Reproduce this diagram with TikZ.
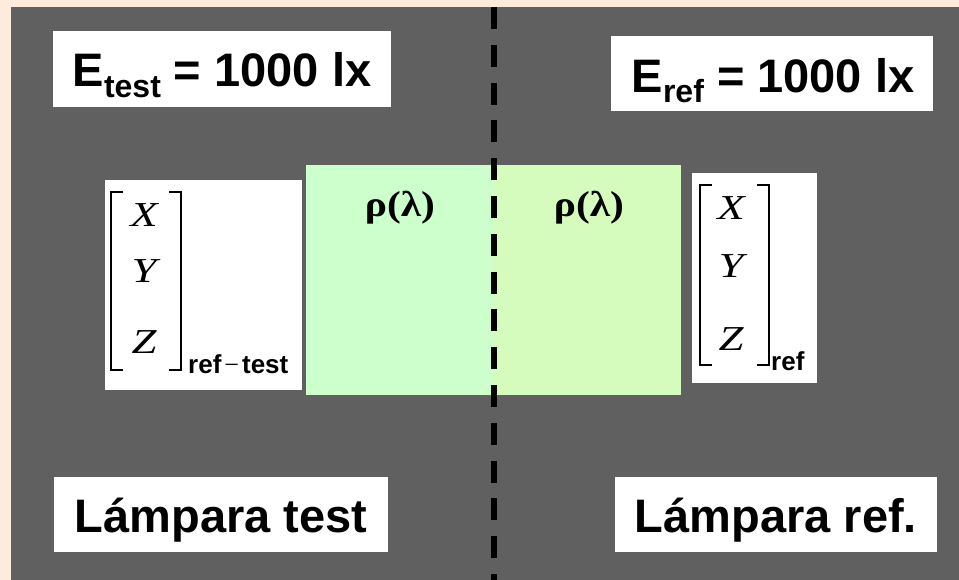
\documentclass[tikz,border=0pt]{standalone}
\usepackage{fontspec}
\newfontfamily\arialf{Liberation Sans}
\newfontfamily\timesf{Liberation Serif}
\newcommand\mysubfont{\arialf\bfseries\fontsize{32}{32}\selectfont}
\newcommand\widen[1]{\scalebox{1.28}[1]{#1}}
\definecolor{bgbeige}{RGB}{253,236,222}
\definecolor{panelgray}{RGB}{96,96,96}
\definecolor{greenA}{RGB}{204,255,204}
\definecolor{greenB}{RGB}{213,252,189}
\begin{document}
\begin{tikzpicture}[x=1pt,y=-1pt,
  whitebox/.style={fill=white,draw=none},
  bigtxt/.style={font=\arialf\bfseries\fontsize{47}{47}\selectfont,inner sep=0pt,anchor=base},
  rhotxt/.style={font=\timesf\bfseries\fontsize{36}{36}\selectfont,inner sep=0pt,anchor=base},
  mattxt/.style={font=\timesf\itshape\fontsize{35}{35}\selectfont,inner sep=0pt,anchor=base},
  idxtxt/.style={font=\arialf\bfseries\fontsize{26}{26}\selectfont,inner sep=0pt,anchor=base west},
  brk/.style={draw=black,line width=1.3pt},
  dashline/.style={draw=black,line width=5.5pt,dash pattern=on 22pt off 15.8pt}]
\useasboundingbox (0,0) rectangle (959,580);
\fill[bgbeige] (0,0) rectangle (959,580);
\fill[panelgray] (11,7) rectangle (959,580);
% white label boxes
\fill[whitebox] (53,31) rectangle (391,107);
\fill[whitebox] (611,36) rectangle (933,111);
\fill[whitebox] (54,477) rectangle (388,552);
\fill[whitebox] (615,477) rectangle (937,552);
\fill[whitebox] (105,180) rectangle (302,390);
\fill[whitebox] (692,173) rectangle (817,383);
% green sample
\fill[greenA] (306,165) rectangle (494,395);
\fill[greenB] (494,165) rectangle (681,395);
% dashed divider
\coordinate (dtop) at (494,7);
\coordinate (dbot) at (494,580);
\draw[dashline] (dtop) -- (dbot);
% texts
\node[bigtxt] (etest) at (222,87) {E{\mysubfont\raisebox{-11pt}{test}} = 1000 lx};
\node[bigtxt] (eref) at (773,93) {E{\mysubfont\raisebox{-10pt}{ref}} = 1000 lx};
\node[bigtxt] (ltest) at (221,532) {Lámpara test};
\node[bigtxt] (lref) at (776,532) {Lámpara ref.};
\node[rhotxt] (rhoA) at (400,217) {\scalebox{1.15}[1]{ρ(λ)}};
\node[rhotxt] (rhoB) at (589,217) {\scalebox{1.15}[1]{ρ(λ)}};
% left matrix
\draw[brk] (123,192) -- (111,192) -- (111,370) -- (123,370);
\draw[brk] (169,192) -- (181,192) -- (181,370) -- (169,370);
\node[mattxt] (xa) at (144,227) {\widen{X}};
\node[mattxt] (ya) at (144,283) {\widen{Y}};
\node[mattxt] (za) at (144,353) {\widen{Z}};
\node[idxtxt] (suba) at (188,373) {ref\kern3pt{\timesf\mdseries −}\kern3pt test};
% right matrix
\draw[brk] (712,185) -- (700,185) -- (700,365) -- (712,365);
\draw[brk] (757,185) -- (769,185) -- (769,365) -- (757,365);
\node[mattxt] (xb) at (731,220) {\widen{X}};
\node[mattxt] (yb) at (731,277) {\widen{Y}};
\node[mattxt] (zb) at (731,350) {\widen{Z}};
\node[idxtxt] (subb) at (771,370) {ref};
\end{tikzpicture}
\end{document}
